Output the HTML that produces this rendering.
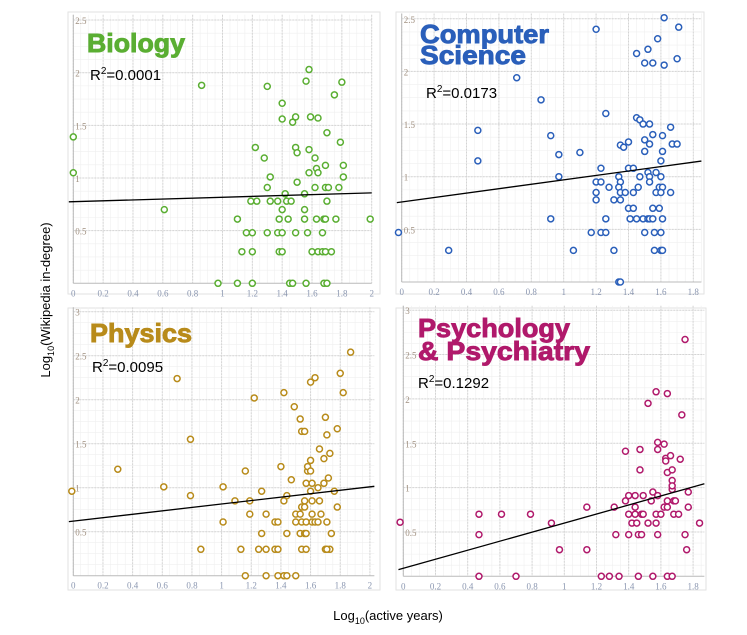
<!DOCTYPE html>
<html><head><meta charset="utf-8"><style>
body{margin:0;background:#fff;}
svg{display:block;font-family:"Liberation Sans",sans-serif;}
</style></head><body>
<svg id="c" width="747" height="635" xmlns="http://www.w3.org/2000/svg">
<text x="50" y="300" transform="rotate(-90 50 300)" text-anchor="middle" font-size="13" fill="#000">Log<tspan font-size="9" dy="4">10</tspan><tspan dy="-4">(Wikipedia in-degree)</tspan></text>
<text x="388" y="620" text-anchor="middle" font-size="13" fill="#000">Log<tspan font-size="9" dy="4">10</tspan><tspan dy="-4">(active years)</tspan></text>
</svg>
<script>
// Biology
const bioX=[0,0,0.86,0.61,1.30,1.58,1.56,1.80,1.75,1.40,1.40,1.49,1.47,1.59,1.64,1.70,1.79,1.22,1.49,1.50,1.58,1.28,1.62,1.63,1.69,1.81,1.58,1.64,1.32,1.81,1.50,1.30,1.62,1.69,1.71,1.78,1.42,1.55,
1.19,1.23,1.32,1.37,1.43,1.46,1.70,1.40,1.55,1.10,1.38,1.44,1.55,1.63,1.68,1.69,1.76,1.99,1.16,1.20,1.30,1.37,1.40,1.49,1.57,1.67,1.13,1.20,1.38,1.40,1.60,1.64,1.67,1.69,1.73,0.97,1.10,1.20,1.45,1.47,1.56,1.68,1.70];
const bioY=[1.39,1.05,1.88,0.70,1.87,2.03,1.92,1.91,1.79,1.71,1.56,1.58,1.53,1.58,1.57,1.43,1.34,1.29,1.29,1.24,1.27,1.19,1.19,1.09,1.12,1.12,1.05,1.05,1.01,1.01,0.96,0.91,0.91,0.91,0.91,0.91,0.85,0.85,
0.78,0.78,0.78,0.78,0.78,0.78,0.78,0.70,0.70,0.61,0.61,0.61,0.61,0.61,0.61,0.61,0.61,0.61,0.48,0.48,0.48,0.48,0.48,0.48,0.48,0.48,0.30,0.30,0.30,0.30,0.30,0.30,0.30,0.30,0.30,0,0,0,0,0,0,0,0];
const bioLine=[0.775,0.042];
// Computer Science
const csX=[-0.02,0.29,0.47,0.47,0.71,0.86,0.92,0.92,0.97,0.97,1.06,1.10,1.20,1.26,1.62,1.71,1.58,1.52,1.45,1.50,1.55,1.62,1.70,1.45,1.47,1.49,1.53,1.66,1.55,1.61,1.50,1.35,1.40,1.37,1.53,1.67,1.70,1.50,1.61,1.60,1.23,1.40,1.43,1.52,1.57,1.47,1.53,1.60,1.34,1.20,1.23,1.35,1.28,1.34,1.53,1.59,1.61,1.46,1.20,1.35,1.38,1.43,1.57,1.60,1.66,1.20,1.31,1.35,1.40,1.43,1.55,1.59,1.41,1.45,1.49,1.52,1.53,1.55,1.61,1.26,1.17,1.23,1.26,1.50,1.56,1.60,1.31,1.56,1.60,1.61,1.34,1.35];
const csY=[0.47,0.30,1.44,1.15,1.94,1.73,1.39,0.60,1.21,1.00,0.30,1.23,2.40,1.60,2.51,2.42,2.31,2.21,2.17,2.08,2.08,2.06,2.12,1.56,1.54,1.50,1.50,1.47,1.40,1.39,1.35,1.30,1.33,1.28,1.31,1.31,1.31,1.24,1.24,1.15,1.08,1.08,1.08,1.04,1.04,1.00,1.00,1.00,1.00,0.95,0.95,0.95,0.90,0.90,0.95,0.90,0.90,0.90,0.85,0.85,0.85,0.85,0.85,0.85,0.85,0.78,0.78,0.78,0.70,0.70,0.70,0.70,0.60,0.60,0.60,0.60,0.60,0.60,0.60,0.60,0.47,0.47,0.47,0.47,0.47,0.47,0.30,0.30,0.30,0.30,0,0];
const csLine=[0.76,0.21];
// Physics
const phX=[-0.01,0.30,0.61,0.70,0.79,0.79,0.86,1.01,1.01,1.09,1.13,1.16,1.16,1.19,1.19,1.22,1.25,1.27,1.27,1.30,1.30,1.30,1.36,1.38,1.36,1.38,1.38,1.40,1.42,1.42,1.44,1.44,1.42,1.44,1.47,1.49,1.50,1.50,1.50,1.53,1.54,1.56,1.54,1.56,1.53,1.54,1.57,1.53,1.56,1.57,1.54,1.57,1.56,1.57,1.58,1.58,1.60,1.60,1.60,1.61,1.61,1.61,1.61,1.63,1.65,1.63,1.60,1.65,1.66,1.66,1.67,1.69,1.69,1.70,1.71,1.71,1.72,1.73,1.73,1.70,1.71,1.74,1.76,1.78,1.78,1.80,1.82,1.87];
const phY=[0.96,1.21,1.01,2.24,1.55,0.91,0.30,1.01,0.61,0.85,0.30,1.19,0,0.85,0.70,2.02,0.30,0.96,0.48,0.70,0.30,0,0.61,0.61,0.30,0.30,0,1.24,2.08,0.85,0.91,0.48,0,0,1.09,1.92,0.70,0.61,0,1.78,1.64,1.64,0.78,0.78,0.70,0.61,0.61,0.48,0.48,0.48,0.30,0.30,0.85,1.05,1.19,1.24,1.31,0.96,1.19,1.05,0.85,0.70,0.61,0.61,0.61,2.25,2.20,1.00,1.44,0.85,0.70,1.05,1.33,1.80,0.61,1.60,1.11,1.39,0.30,0.30,0.30,0.48,0.96,1.67,0.78,2.30,2.08,2.54];
const phLine=[0.62,0.195];
// Psychology & Psychiatry
const psX=[-0.02,0.47,0.47,0.47,0.61,0.70,0.79,0.92,0.97,1.14,1.14,1.23,1.28,1.34,1.31,1.32,1.38,1.38,1.40,1.40,1.40,1.42,1.44,1.44,1.44,1.45,1.46,1.46,1.47,1.47,1.48,1.48,1.49,1.49,1.52,1.52,1.54,1.55,1.55,1.57,1.57,1.57,1.58,1.58,1.58,1.58,1.60,1.62,1.62,1.63,1.63,1.64,1.64,1.64,1.64,1.64,1.66,1.67,1.67,1.67,1.67,1.67,1.68,1.68,1.69,1.71,1.72,1.73,1.75,1.75,1.76,1.77,1.77,1.84];
const psY=[0.61,0.70,0.47,0,0.70,0,0.70,0.60,0.30,0.78,0.30,0,0,0,0.78,0.47,1.41,0.85,0.91,0.70,0.47,0.60,0.91,0.70,0.78,0.60,0.47,0,1.43,1.20,0.70,0.47,0.70,0.91,1.95,0.60,0.85,0,0.95,0.70,0.60,2.08,1.43,1.51,0.47,0.91,0.70,1.49,0.78,1.33,1.30,2.06,1.17,0.85,0.78,0,1.36,1.08,0.98,0,1.20,1.02,0.70,0.85,0.85,0.70,1.32,1.82,2.67,0.47,0.30,0.78,0.95,0.60];
const psLine=[0.09,0.51];

const NS='http://www.w3.org/2000/svg';
const svg=document.getElementById('c');
function el(t,a,p){const e=document.createElementNS(NS,t);for(const k in a)e.setAttribute(k,a[k]);(p||svg).appendChild(e);return e;}

const panels=[
 {name:'biology',title:['Biology'],tw:[98],fs:26,color:'#5aae32',tx:87,ty:[52],r2:'0.0001',rx:90,ry:80,fx:[68,12,312,282],x0:73.3,ppx:149.2,y0:283.3,ppy:105.3,xmax:2.0,ymax:2.55,ystep:0.5,xticks:['0','0.2','0.4','0.6','0.8','1','1.2','1.4','1.6','1.8','2'],yticks:['0.5','1','1.5','2','2.5'],xs:bioX,ys:bioY,line:bioLine},
 {name:'computer-science',title:['Computer','Science'],tw:[129,106],fs:26,color:'#2a5fba',tx:420,ty:[43,64],r2:'0.0173',rx:426,ry:98,fx:[396,12,308,282],x0:401.7,ppx:162,y0:282,ppy:105.3,xmax:1.85,ymax:2.55,ystep:0.5,xticks:['0','0.2','0.4','0.6','0.8','1','1.2','1.4','1.6','1.8'],yticks:['0.5','1','1.5','2','2.5'],xs:csX,ys:csY,line:csLine},
 {name:'physics',title:['Physics'],tw:[102],fs:26,color:'#b88b1a',tx:90,ty:[342],r2:'0.0095',rx:92,ry:372,fx:[68,308,312,282],x0:73.3,ppx:148.3,y0:575.7,ppy:88,xmax:2.03,ymax:3.05,ystep:0.5,xticks:['0','0.2','0.4','0.6','0.8','1','1.2','1.4','1.6','1.8','2'],yticks:['0.5','1','1.5','2','2.5','3'],xs:phX,ys:phY,line:phLine},
 {name:'psychology',title:['Psychology','& Psychiatry'],tw:[152,172],fs:26,color:'#b0196b',tx:418,ty:[337,360],r2:'0.1292',rx:418,ry:388,fx:[396,308,310,282],x0:403.3,ppx:161,y0:576.3,ppy:88.7,xmax:1.87,ymax:3.05,ystep:0.5,xticks:['0','0.2','0.4','0.6','0.8','1','1.2','1.4','1.6','1.8'],yticks:['0.5','1','1.5','2','2.5','3'],xs:psX,ys:psY,line:psLine}
];

panels.forEach(p=>{
 const g=el('g',{});
 
 
 const sx=v=>p.x0+v*p.ppx, sy=v=>p.y0-v*p.ppy;
 el('rect',{x:p.fx[0],y:p.fx[1],width:p.fx[2],height:p.fx[3],fill:'#fff',stroke:'#e2e2e2'},g);
 const top=sy(p.ymax), right=sx(p.xmax);
 for(let v=0;v<=p.xmax+1e-9;v+=0.05) el('line',{x1:sx(v),x2:sx(v),y1:top,y2:p.y0,stroke:'#efefef','stroke-width':0.6},g);
 for(let v=0;v<=p.ymax+1e-9;v+=0.125) el('line',{x1:p.x0,x2:right,y1:sy(v),y2:sy(v),stroke:'#efefef','stroke-width':0.6},g);
 p.xticks.forEach((t,i)=>{const x=sx(i*0.2);
  el('line',{x1:x,x2:x,y1:top,y2:p.y0,stroke:'#d4d4d4','stroke-dasharray':'2,1'},g);
  const tt=el('text',{x:x,y:p.y0+13,'text-anchor':'middle','font-size':9,fill:'#8a96b0','font-family':'Liberation Serif,serif'},g);
  tt.textContent=t;
  
  });
 p.yticks.forEach((t,i)=>{const y=sy((i+1)*p.ystep);
  el('line',{x1:p.x0,x2:right,y1:y,y2:y,stroke:'#d4d4d4','stroke-dasharray':'2,1'},g);
  const tt=el('text',{x:p.x0+2,y:y+4,'font-size':9,fill:'#a09080','font-family':'Liberation Serif,serif'},g);
  tt.textContent=t;
  
  });
 el('line',{x1:p.x0,x2:p.x0,y1:top,y2:p.y0,stroke:'#bbb'},g);
 el('line',{x1:p.x0,x2:right,y1:p.y0,y2:p.y0,stroke:'#bbb'},g);
 p.title.forEach((t,i)=>{const tt=el('text',{x:p.tx,y:p.ty[i],'font-size':p.fs,'font-weight':'bold',fill:p.color,stroke:p.color,'stroke-width':0.9,textLength:p.tw[i],lengthAdjust:'spacingAndGlyphs'},g);
  tt.textContent=t;
  
  });
 const r=el('text',{x:p.rx,y:p.ry,'font-size':15,fill:'#000'},g);
 r.innerHTML='R<tspan font-size="10" dy="-6">2</tspan><tspan dy="6">='+p.r2+'</tspan>';
 
 
 p.xs.forEach((xv,i)=>{const c=el('circle',{cx:sx(xv),cy:sy(p.ys[i]),r:3,fill:'#fff',stroke:p.color,'stroke-width':1.5},g);
  
  });
 const xa=-0.03, xb=p.xmax;
 const ln=el('line',{x1:sx(xa),y1:sy(p.line[0]+p.line[1]*xa),x2:sx(xb),y2:sy(p.line[0]+p.line[1]*xb),stroke:'#000','stroke-width':1.3},g);
 
 
});
</script>
</body></html>
